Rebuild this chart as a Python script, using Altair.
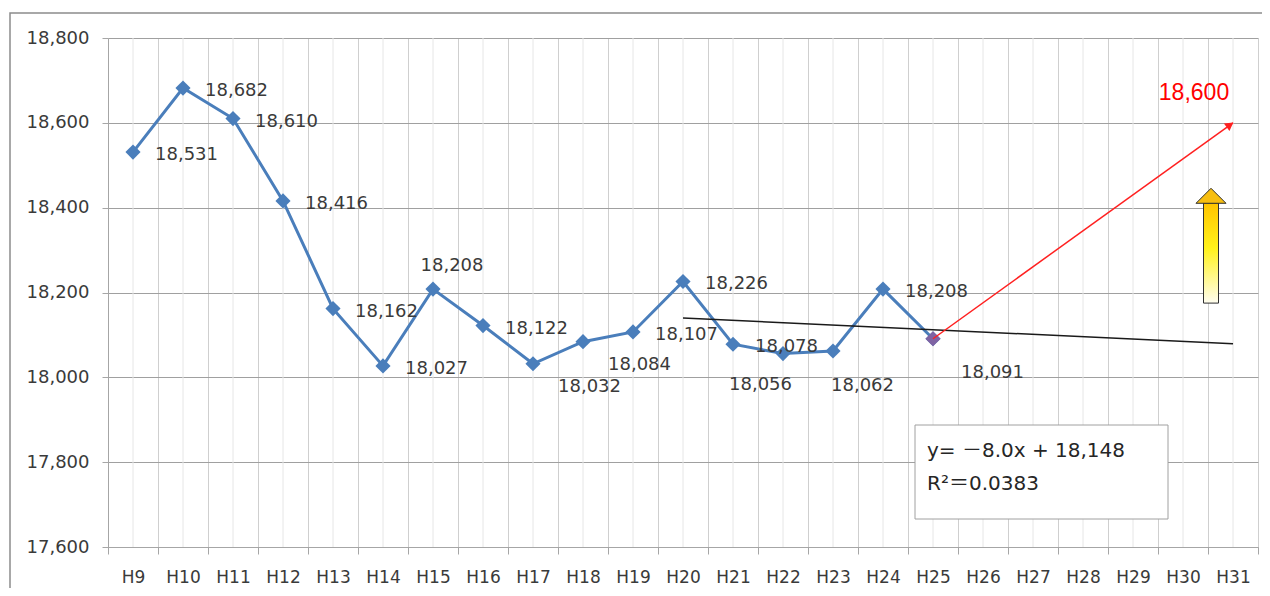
import altair as alt
import pandas as pd

# ---------------- data ----------------
categories = ["H9", "H10", "H11", "H12", "H13", "H14", "H15", "H16", "H17", "H18",
              "H19", "H20", "H21", "H22", "H23", "H24", "H25", "H26", "H27", "H28",
              "H29", "H30", "H31"]
obs_years = ["H9", "H10", "H11", "H12", "H13", "H14", "H15", "H16", "H17", "H18",
             "H19", "H20", "H21", "H22", "H23", "H24", "H25"]
obs_values = [18531, 18682, 18610, 18416, 18162, 18027, 18208, 18122, 18032, 18084,
              18107, 18226, 18078, 18056, 18062, 18208, 18091]
label_place = ["right", "right", "right", "right", "right", "right", "above", "right",
               "below_right", "below_right", "right", "right", "right", "below_left",
               "below", "right", "below_far"]

trend_years = ["H20", "H31"]
trend_values = [18140, 18079]

target_years = ["H25", "H31"]
target_values = [18091, 18600]
target_text = "18,600"

up_arrow_year = ["H30"]
up_arrow_bottom = [18175]
up_arrow_top = [18411]
up_arrow_head = [18428]

eq_lines = ["y= －8.0x + 18,148", "R²＝0.0383"]

y_ticks = [17600, 17800, 18000, 18200, 18400, 18600, 18800]

# ---------------- layout / style ----------------
W, H = 1150, 509
FONT = "DejaVu Sans"
TXT = "#3A3A3A"

xscale = alt.Scale(domain=categories, type="band", paddingInner=0, paddingOuter=0)
yscale = alt.Scale(domain=[17600, 18800], nice=False, zero=False)

x_axis = alt.Axis(title=None, tickBand="extent", grid=True, gridColor="#CFCFCF",
                  gridWidth=1, domainColor="#A6A6A6", tickColor="#A6A6A6", tickSize=7,
                  labelFont=FONT, labelFontSize=17, labelColor=TXT, labelPadding=15,
                  labelAngle=0)
y_axis = alt.Axis(title=None, values=y_ticks, format=",", labelExpr="format(datum.value, ',')",
                  grid=True, gridColor="#A0A0A0",
                  gridWidth=1, domainColor="#A6A6A6", tickColor="#A6A6A6", tickSize=6,
                  labelFont=FONT, labelFontSize=18, labelColor=TXT, labelPadding=13)

X = alt.X("year:N", scale=xscale, axis=x_axis, sort=categories)
Y = alt.Y("value:Q", scale=yscale, axis=y_axis)

obs = pd.DataFrame({"year": obs_years, "value": obs_values, "place": label_place})
cat_df = pd.DataFrame({"year": categories})
trend = pd.DataFrame({"year": trend_years, "value": trend_values})
target = pd.DataFrame({"year": target_years, "value": target_values})
target_end = target.iloc[[-1]].assign(label=target_text)
arrow_df = pd.DataFrame({"year": up_arrow_year, "value": up_arrow_bottom,
                         "value2": up_arrow_top, "head": up_arrow_head})
one = pd.DataFrame({"a": [0]})

layers = []

# outer frame (right and bottom edges fall outside the canvas, as in the original)
layers.append(alt.Chart(one).mark_rect(fillOpacity=0, stroke="#8C8C8C", strokeWidth=1.5).encode(
    x=alt.value(-98), x2=alt.value(1175), y=alt.value(-25), y2=alt.value(570)))

# light centre grid lines
layers.append(alt.Chart(cat_df).mark_rule(color="#E6E6E6", strokeWidth=1).encode(
    x=X, y=alt.value(0), y2=alt.value(H)))

# observed line + markers
layers.append(alt.Chart(obs).mark_line(color="#4A7EBB", strokeWidth=3).encode(x=X, y=Y))
layers.append(alt.Chart(obs).mark_point(shape="diamond", size=230, filled=True, opacity=1,
                                        color="#4A7EBB").encode(x=X, y=Y))
layers.append(alt.Chart(obs.iloc[[-1]]).mark_point(shape="diamond", size=230, filled=True,
                                                   opacity=1, color="#7F63A3").encode(x=X, y=Y))

# trend line
layers.append(alt.Chart(trend).mark_line(color="#1A1A1A", strokeWidth=1.5).encode(x=X, y=Y))

# data labels
offsets = {
    "right": dict(align="left", dx=22, dy=3),
    "above": dict(align="center", dx=19, dy=-23),
    "below_right": dict(align="left", dx=25, dy=23),
    "below_far": dict(align="left", dx=28, dy=34),
    "below_left": dict(align="left", dx=-54, dy=31),
    "below": dict(align="left", dx=-2, dy=35),
}
for place, kw in offsets.items():
    layers.append(alt.Chart(obs).transform_filter(alt.datum.place == place).mark_text(
        font=FONT, fontSize=18, color=TXT, baseline="middle", **kw).encode(
        x=X, y=Y, text=alt.Text("value:Q", format=",")))

# red target arrow
layers.append(alt.Chart(target).mark_line(color="#FF2020", strokeWidth=1.5).encode(x=X, y=Y))
layers.append(alt.Chart(target_end).mark_point(shape="triangle-right", size=90, filled=True,
                                               opacity=1, color="#FF2020", angle=324,
                                               xOffset=-3, yOffset=2).encode(x=X, y=Y))
layers.append(alt.Chart(target_end).mark_text(font="Liberation Sans", fontSize=23,
                                              color="#FF0000", align="center",
                                              baseline="middle", dx=-39, dy=-30).encode(
    x=X, y=Y, text="label:N"))

# yellow up arrow
grad = alt.Gradient(gradient="linear", x1=0, x2=0, y1=1, y2=0,
                    stops=[alt.GradientStop(color="#FFFDF0", offset=0),
                           alt.GradientStop(color="#FFF21A", offset=0.55),
                           alt.GradientStop(color="#FFC400", offset=1)])
layers.append(alt.Chart(arrow_df).mark_bar(width=15, fill=grad, stroke="#303030",
                                           strokeWidth=1, xOffset=28).encode(
    x=X, y=Y, y2=alt.Y2("value2:Q")))
layers.append(alt.Chart(arrow_df).mark_point(shape="M-1,0.5L0,-0.5L1,0.5Z", size=900,
                                             filled=True, opacity=1, fill="#F7BE10",
                                             stroke="#303030", strokeWidth=1,
                                             xOffset=28).encode(
    x=X, y=alt.Y("head:Q", scale=yscale, axis=y_axis)))

# equation box
layers.append(alt.Chart(one).mark_rect(fill="white", stroke="#A0A0A0", strokeWidth=1).encode(
    x=alt.value(807), x2=alt.value(1060), y=alt.value(387), y2=alt.value(481)))
for i, line in enumerate(eq_lines):
    layers.append(alt.Chart(one).mark_text(font=FONT + ", Noto Sans CJK JP", fontSize=20,
                                           color="#262626", align="left",
                                           baseline="middle", text=line).encode(
        x=alt.value(819), y=alt.value(413 + 33 * i)))

chart = alt.layer(*layers).properties(
    width=W, height=H,
    autosize=alt.AutoSizeParams(type="none"),
    padding={"left": 100, "top": 30, "right": 4, "bottom": 41},
    background="white",
).configure(numberFormat=",").configure_view(stroke="transparent")

chart.save("out.html", embed_options={"renderer": "svg", "actions": False})
